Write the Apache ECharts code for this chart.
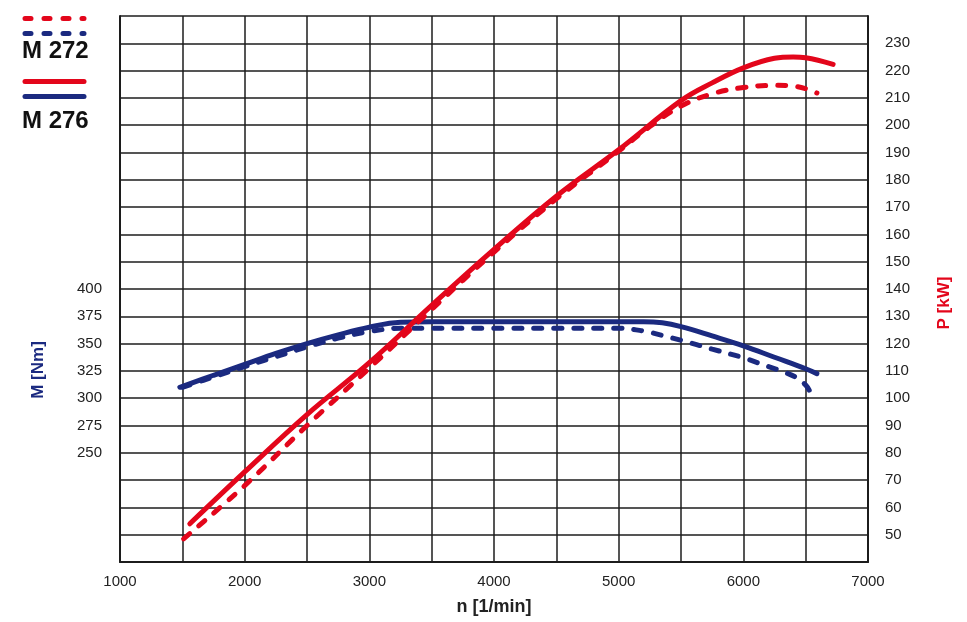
<!DOCTYPE html>
<html>
<head>
<meta charset="utf-8">
<script src="https://cdn.jsdelivr.net/npm/echarts@6/dist/echarts.min.js"></script>
<style>
html,body{margin:0;padding:0;background:#fff;}
#chart{width:967px;height:622px;}
</style>
</head>
<body>
<div id="chart"></div>
<script>
// ---- data ----
const xTicks = [1000, 2000, 3000, 4000, 5000, 6000, 7000];
const torqueTicks = [250, 275, 300, 325, 350, 375, 400];
const powerTicks = [50, 60, 70, 80, 90, 100, 110, 120, 130, 140, 150, 160, 170, 180, 190, 200, 210, 220, 230];

const m276TorqueRpm = [1480, 1750, 2000, 2250, 2500, 2750, 3000, 3250, 3500, 4000, 4500, 5000, 5200, 5350, 5500, 5750, 6000, 6250, 6500, 6590];
const m276Torque    = [310, 321, 331, 341, 350, 358, 365, 369.5, 370, 370, 370, 370, 370, 369, 365.5, 357, 348, 337.5, 327, 322.5];

const m272TorqueRpm = [1500, 1750, 2000, 2250, 2500, 2750, 3000, 3250, 3500, 4000, 4500, 5000, 5200, 5350, 5500, 5750, 6000, 6200, 6350, 6430, 6500, 6535];
const m272Torque    = [310, 319.5, 329, 338, 347, 355, 361, 364, 364, 364, 364, 364, 361.5, 357.5, 353, 345, 337, 329, 323, 318.5, 312, 306];

const m276PowerRpm = [1560, 2000, 2500, 3000, 3500, 4000, 4500, 5000, 5500, 5750, 6000, 6250, 6400, 6500, 6720];
const m276Power    = [54, 73, 94, 113, 134, 154.5, 174, 191, 209, 215.5, 221, 224.5, 225, 224.7, 222.3];

const m272PowerRpm = [1510, 2000, 2500, 3000, 3500, 4000, 4500, 5000, 5250, 5500, 5750, 6000, 6250, 6400, 6500, 6590];
const m272Power    = [48.5, 68, 90, 111, 132.5, 153.5, 173, 190.5, 199.5, 207, 211.5, 213.8, 214.6, 214.3, 213.4, 211.8];

const legendNames = ['M 272', 'M 276'];
const axisNames = { torque: 'M [Nm]', power: 'P [kW]', rpm: 'n [1/min]' };

// ---- styles ----
const RED = '#e3061b';
const BLUE = '#1b2a80';
const GRID = '#1c1c1c';
const FONT = '"Liberation Sans", Arial, sans-serif';

function pairs(xs, ys) { return xs.map((x, i) => [x, ys[i]]); }

const chart = echarts.init(document.getElementById('chart'), null, { renderer: 'canvas' });

const dashed = [8, 12];

const option = {
  animation: false,
  backgroundColor: '#fff',
  grid: { left: 120, right: 99, top: 16, bottom: 60, containLabel: false },
  xAxis: {
    type: 'value', min: 1000, max: 7000, interval: 500,
    axisLine: { show: true, lineStyle: { color: GRID, width: 2 } },
    axisTick: { show: false },
    axisLabel: {
      margin: 12, color: '#222', fontSize: 15, fontFamily: FONT,
      formatter: v => xTicks.indexOf(v) >= 0 ? String(v) : ''
    },
    splitLine: { show: true, lineStyle: { color: GRID, width: 1.5 } }
  },
  yAxis: [
    {
      type: 'value', min: 150, max: 650, interval: 25, position: 'left',
      axisLine: { show: true, lineStyle: { color: GRID, width: 2 } },
      axisTick: { show: false },
      axisLabel: {
        margin: 18, color: '#222', fontSize: 15, fontFamily: FONT,
        formatter: v => torqueTicks.indexOf(v) >= 0 ? String(v) : ''
      },
      splitLine: { show: true, lineStyle: { color: GRID, width: 1.5 } }
    },
    {
      type: 'value', min: 40, max: 240, interval: 10, position: 'right',
      axisLine: { show: true, lineStyle: { color: GRID, width: 2 } },
      axisTick: { show: false },
      axisLabel: {
        margin: 17, color: '#222', fontSize: 15, fontFamily: FONT,
        formatter: v => powerTicks.indexOf(v) >= 0 ? String(v) : ''
      },
      splitLine: { show: false }
    }
  ],
  series: [
    {
      name: legendNames[0] + ' M', type: 'line', yAxisIndex: 0, smooth: 0.4, showSymbol: false,
      data: pairs(m272TorqueRpm, m272Torque),
      lineStyle: { color: BLUE, width: 5, type: dashed, cap: 'round' }, z: 3
    },
    {
      name: legendNames[1] + ' M', type: 'line', yAxisIndex: 0, smooth: 0.4, showSymbol: false,
      data: pairs(m276TorqueRpm, m276Torque),
      lineStyle: { color: BLUE, width: 5, cap: 'round' }, z: 4
    },
    {
      name: legendNames[0] + ' P', type: 'line', yAxisIndex: 1, smooth: 0.4, showSymbol: false,
      data: pairs(m272PowerRpm, m272Power),
      lineStyle: { color: RED, width: 5, type: dashed, cap: 'round' }, z: 5
    },
    {
      name: legendNames[1] + ' P', type: 'line', yAxisIndex: 1, smooth: 0.4, showSymbol: false,
      data: pairs(m276PowerRpm, m276Power),
      lineStyle: { color: RED, width: 5, cap: 'round' }, z: 6
    }
  ],
  graphic: [
    // legend
    { type: 'line', shape: { x1: 25, y1: 18.5, x2: 84, y2: 18.5 }, style: { stroke: RED, lineWidth: 5, lineDash: [6, 13], lineCap: 'round' } },
    { type: 'line', shape: { x1: 25, y1: 33.5, x2: 84, y2: 33.5 }, style: { stroke: BLUE, lineWidth: 5, lineDash: [6, 13], lineCap: 'round' } },
    { type: 'text', left: 22, top: 39, style: { text: legendNames[0], fill: '#111', font: 'bold 24px ' + FONT } },
    { type: 'line', shape: { x1: 25, y1: 81.5, x2: 84, y2: 81.5 }, style: { stroke: RED, lineWidth: 5, lineCap: 'round' } },
    { type: 'line', shape: { x1: 25, y1: 96.5, x2: 84, y2: 96.5 }, style: { stroke: BLUE, lineWidth: 5, lineCap: 'round' } },
    { type: 'text', left: 22, top: 109, style: { text: legendNames[1], fill: '#111', font: 'bold 24px ' + FONT } },
    // axis names
    { type: 'text', x: 38, y: 370, rotation: Math.PI / 2, style: { text: axisNames.torque, fill: BLUE, font: 'bold 17px ' + FONT, align: 'center', verticalAlign: 'middle' } },
    { type: 'text', x: 944, y: 303, rotation: Math.PI / 2, style: { text: axisNames.power, fill: RED, font: 'bold 17px ' + FONT, align: 'center', verticalAlign: 'middle' } },
    { type: 'text', x: 494, y: 607, style: { text: axisNames.rpm, fill: '#222', font: 'bold 18px ' + FONT, align: 'center', verticalAlign: 'middle' } }
  ]
};

chart.setOption(option);
</script>
</body>
</html>
